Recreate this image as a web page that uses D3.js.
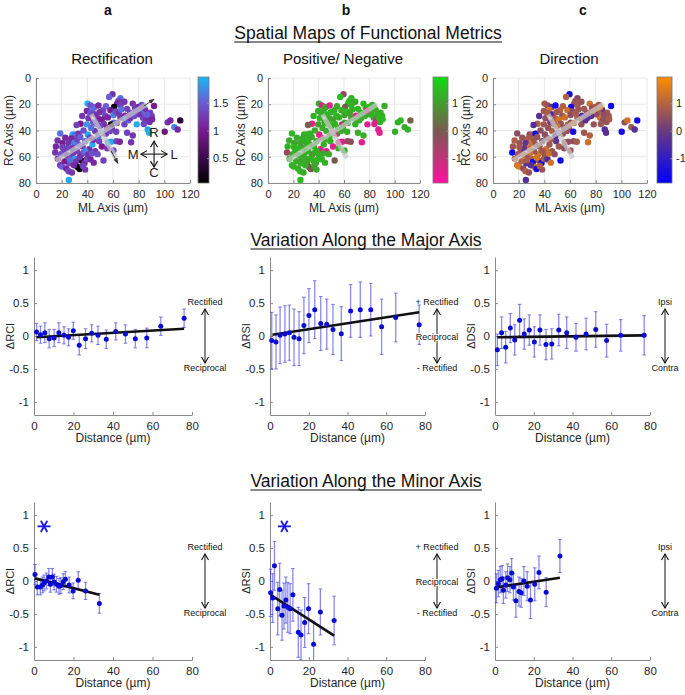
<!DOCTYPE html>
<meta charset="utf-8">
<head>
<title>Spatial Maps of Functional Metrics</title>
<script src="https://d3js.org/d3.v7.min.js"></script>
<style>
  body { margin: 0; background: #fff; }
  text { font-family: "Liberation Sans", Arial, sans-serif; }
</style>
</head>
<body>
<div id="fig"></div>
<script>
// ---------------- data ----------------
const colLetters = ["a", "b", "c"];
const mapTitles = ["Rectification", "Positive/ Negative", "Direction"];
const mapXTicks = [0, 20, 40, 60, 80, 100, 120];
const mapYTicks = [0, 20, 40, 60, 80];

// cell positions (ML, RC in µm) and metric values for each cell
const cellML = [59.6,57.0,65.8,64.2,67.4,63.2,60.9,65.8,68.9,40.2,42.5,45.6,48.7,44.0,46.1,52.3,58.0,60.4,53.9,48.2,
  51.3,52.8,44.6,40.9,39.6,34.7,31.6,28.5,30.8,33.2,27.5,30.1,18.9,16.8,15.5,15.0,20.7,21.5,25.4,27.5,
  24.4,27.2,18.9,20.2,23.6,25.9,25.6,30.1,31.1,32.4,33.9,35.0,35.8,37.8,39.6,36.3,38.3,40.4,42.0,41.5,
  44.0,46.1,49.2,50.8,54.4,51.3,56.0,58.5,62.7,65.3,74.1,52.6,60.4,59.1,60.6,58.5,63.0,65.8,69.4,69.4,
  68.9,72.0,75.4,77.2,79.8,82.4,85.0,81.9,83.4,85.5,87.6,90.2,92.0,78.5,87.1,88.1,71.0,75.4,100.3,102.6,
  104.7,107.8,110.4,112.4,39.6,42.2,28.5,33.2,22.3,31.9,80.3,88.9,73.3,55.2,50.0,46.1,48.7,38.3,25.4,37.0,
  17.0,19.5,22.8,24.0,26.5,29.0,29.5,32.0,34.5,34.0,36.5,37.0,38.5,40.5,42.5,43.5,44.5,43.0,47.5,49.5,
  54.5,56.0,57.5,62.0,64.5,66.5,71.0,73.5,76.5,78.0,83.5,86.5,88.5,84.0,90.5,62.5,55.5,48.0,45.0,28.0,
  20.5,36.0];
const cellRC = [12.3,14.4,15.4,17.4,18.7,19.5,22.0,20.5,18.0,19.5,21.0,22.0,21.0,24.1,27.7,24.6,24.6,28.2,28.7,30.7,
  31.7,34.8,33.8,30.7,35.3,34.8,35.8,43.0,43.0,42.5,46.1,49.1,42.2,47.6,52.2,56.8,49.6,56.3,49.4,53.2,
  58.8,59.6,66.5,67.5,69.0,65.0,77.7,61.4,63.9,67.8,69.3,58.3,63.0,64.7,61.6,52.2,48.1,43.0,45.5,54.2,
  50.6,55.8,48.1,41.7,42.5,52.2,48.9,48.6,48.1,48.6,48.9,62.9,55.2,38.4,34.1,35.3,34.3,30.2,28.7,31.5,
  35.3,32.3,19.5,22.6,22.0,20.5,24.1,26.4,30.2,32.3,30.7,28.9,21.3,35.3,39.2,41.7,41.7,43.8,41.0,33.8,
  32.3,37.4,39.2,32.3,25.1,26.6,53.2,50.6,63.4,55.8,27.7,26.4,26.4,37.9,36.6,40.4,44.3,69.8,71.1,57.0,
  61.5,58.0,45.5,53.5,62.5,57.0,66.5,46.5,45.0,60.5,67.0,40.0,55.5,58.5,62.0,57.5,47.0,38.0,35.0,26.0,
  21.5,30.0,40.5,25.5,27.0,24.0,23.5,30.5,29.0,25.0,22.5,28.0,33.5,35.0,31.5,41.0,53.5,58.0,64.5,72.0,
  52.5,29.0];
const cellRCI = [1.2,1.5,1.6,1.3,1.2,1.1,0.1,1.3,1.2,1.9,1.4,1.5,1.1,1.6,1.2,1.3,1.0,1.7,1.3,1.1,
  1.0,1.2,1.4,1.2,1.8,1.0,1.3,1.9,1.6,1.2,1.1,1.7,1.6,1.2,1.1,1.2,1.0,1.3,1.2,1.8,
  1.1,1.4,1.2,1.5,1.1,1.3,1.9,1.8,1.2,0.1,0.05,1.0,0.1,1.1,1.4,1.2,1.6,1.9,1.3,1.1,
  1.9,1.2,1.3,1.7,1.2,1.0,1.9,1.9,1.3,1.1,1.2,1.3,1.4,1.2,1.6,0.15,1.3,1.2,1.1,1.8,
  1.3,1.5,1.2,1.3,1.1,1.4,1.2,1.6,1.3,1.2,1.1,1.3,1.0,1.9,1.9,1.9,1.3,1.2,0.9,1.2,
  1.1,1.7,1.1,0.4,1.1,1.4,1.2,1.5,1.0,1.3,1.2,1.3,1.4,1.1,1.3,1.2,1.6,1.2,1.3,1.4,
  1.2,1.4,1.1,1.3,1.6,1.2,1.1,1.3,1.5,1.2,1.3,1.4,1.7,1.2,1.1,1.4,1.2,1.6,1.3,1.2,
  1.5,1.1,1.3,1.4,1.2,1.6,1.3,1.2,1.4,1.3,1.1,1.5,1.2,1.3,1.1,1.3,1.2,1.4,1.1,1.2,
  1.3,1.2];
const cellRSI = [-0.4,1.5,1.3,1.4,1.2,1.5,0.0,1.3,1.1,1.2,-1.4,1.3,-1.5,1.2,1.4,1.2,1.3,1.1,1.5,1.2,
  1.0,1.3,1.2,1.4,1.1,-1.5,0.1,1.3,1.2,1.4,1.2,1.3,1.4,1.2,1.3,-0.4,1.1,1.4,1.2,-1.5,
  1.3,1.2,1.5,1.3,1.2,1.4,1.5,1.2,1.1,0.1,0.0,-1.4,1.3,1.2,1.4,1.3,1.2,-1.3,-1.5,-1.4,
  1.2,-1.3,1.3,-1.5,-0.5,-1.5,-1.4,-1.5,-0.6,-0.3,-1.5,0.0,1.3,1.4,1.2,-0.4,1.3,1.1,-1.5,1.4,
  1.2,1.3,1.4,1.2,1.5,1.3,1.2,1.3,1.1,-1.4,1.3,1.4,1.2,-1.5,-1.4,-1.5,1.2,1.3,1.2,1.3,
  1.4,1.2,1.3,0.1,1.3,1.2,1.3,1.2,1.2,1.4,1.3,1.2,1.4,1.2,1.3,1.2,1.3,1.2,1.4,1.2,
  1.3,1.2,1.3,1.4,1.2,1.3,1.2,1.4,1.2,1.3,1.1,1.2,1.3,1.2,1.4,1.2,1.3,1.2,1.3,1.4,
  1.2,1.3,1.2,1.3,1.1,1.3,1.4,1.2,1.3,-1.4,1.2,1.3,1.2,-1.3,1.4,1.2,1.3,1.2,1.3,1.2,
  1.4,1.3];
const cellDSI = [-1.6,0.9,0.3,0.5,0.8,0.7,-1.6,0.7,0.6,0.8,0.6,-0.3,-1.5,1.4,-0.6,0.9,1.3,0.5,0.6,0.8,
  1.4,0.6,0.2,0.5,0.7,0.9,-0.4,0.5,0.7,-1.6,0.8,1.3,0.4,0.9,0.7,-1.6,0.6,0.6,-0.2,0.7,
  1.4,0.5,1.3,1.5,0.5,-0.3,-0.4,0.9,-1.6,1.4,-1.5,0.6,0.6,-1.6,0.8,0.7,0.3,0.5,0.5,1.3,
  0.7,0.6,-0.2,-1.5,0.6,0.7,0.9,0.5,0.5,0.8,1.3,-1.6,0.7,0.6,0.4,0.9,1.4,0.8,-0.5,0.7,
  0.6,-0.2,1.3,0.5,0.7,0.7,-0.3,0.9,1.4,0.5,0.6,0.8,-1.6,0.6,-0.4,-0.3,0.7,0.9,-1.5,0.5,
  1.3,0.7,-0.3,-1.6,0.7,0.8,1.3,0.6,0.9,0.6,0.5,0.7,0.7,0.5,1.3,0.9,-0.4,0.6,0.9,1.4,
  0.9,0.7,0.6,-0.2,0.8,1.3,-0.3,0.7,0.6,1.4,0.9,0.5,0.7,0.6,-0.5,1.3,0.8,0.6,0.7,0.7,
  0.9,1.3,0.6,0.5,0.8,0.7,0.7,-0.4,-0.3,0.9,1.3,0.5,0.6,0.7,0.8,-1.5,0.5,0.5,1.3,0.6,
  0.7,-0.3];

// principal axes drawn over the maps (ML, RC)
const majorAxisLine = [[15.5, 62.9], [86.3, 20.0]];
const minorAxisLine = [[43.0, 27.7], [62.2, 60.9]];
const majorArrow = [[84.0, 21.4], [92.0, 16.2]];
const minorArrow = [[58.5, 55.5], [63.8, 65.0]];

// colour bar ranges / ticks
const cbDomains = [[0.05, 1.97], [-1.9, 1.95], [-1.9, 1.95]];
const cbTicks = [[0.5, 1, 1.5], [-1, 0, 1], [-1, 0, 1]];

// variation along the major axis
const trendXTicks = [0, 20, 40, 60, 80];
const trendYTicks = [-1, -0.5, 0, 0.5, 1];

const majDistRCI = [1.3,3.3,5.5,7.7,10.2,12.6,15.2,17.5,19.9,22.9,26.1,29.2,32.4,36.6,41.4,46.3,51.3,57.1,64.2,76.0];
const majRCI    = [0.06,0.02,0.05,-0.04,-0.03,0.05,0.01,-0.02,0.08,-0.14,-0.04,0.04,0.01,-0.05,0.07,0.03,-0.04,-0.03,0.15,0.27];
const majRCIerr = [0.13,0.13,0.15,0.14,0.13,0.15,0.13,0.13,0.13,0.15,0.15,0.13,0.14,0.14,0.13,0.14,0.14,0.15,0.14,0.14];
const majRCIfit = [[1.3, -0.02], [76.0, 0.11]];

const majDistRSI = [0.9,3.1,5.2,7.7,10.0,12.4,15.0,17.5,20.1,23.1,26.2,29.3,32.5,36.8,41.6,46.6,52.0,57.6,64.9,77.0];
const majRSI    = [-0.07,-0.09,0.01,0.03,0.05,-0.02,-0.04,0.16,0.31,0.40,0.19,0.18,0.10,0.035,0.38,0.40,0.40,0.14,0.28,0.17];
const majRSIerr = [0.43,0.41,0.43,0.43,0.42,0.43,0.41,0.43,0.41,0.44,0.41,0.38,0.38,0.41,0.40,0.42,0.40,0.42,0.37,0.30];
const majRSIfit = [[1.3, 0.02], [77.0, 0.36]];

const majDistDSI = [1.2,3.4,5.5,7.9,10.2,12.7,15.1,17.7,20.3,23.2,26.3,29.3,32.9,37.0,41.8,47.0,52.0,57.6,64.9,77.0];
const majDSI    = [-0.21,0.05,-0.17,0.12,-0.06,0.24,0.03,0.09,-0.09,0.09,-0.13,-0.12,0.09,0.05,-0.02,0.03,0.10,-0.07,0.01,0.01];
const majDSIerr = [0.24,0.24,0.24,0.22,0.23,0.24,0.23,0.23,0.23,0.23,0.23,0.23,0.24,0.24,0.21,0.24,0.27,0.25,0.24,0.30];
const majDSIfit = [[1.2, -0.02], [77.0, 0.01]];

// variation along the minor axis
const minDistRCI = [0.5,1.7,3.2,4.3,5.1,6.3,7.5,8.3,9.3,10.2,11.4,12.7,13.6,14.8,15.9,17.8,19.8,22.4,26.1,33.1];
const minRCI    = [0.10,-0.09,-0.09,-0.06,-0.03,0.0,0.06,-0.05,0.06,-0.015,-0.05,-0.08,-0.07,-0.01,0.025,-0.06,-0.15,0.01,-0.15,-0.34];
const minRCIerr = [0.15,0.12,0.12,0.12,0.12,0.12,0.13,0.12,0.13,0.12,0.12,0.12,0.12,0.12,0.12,0.12,0.12,0.13,0.13,0.15];
const minRCIfit = [[0.5, 0.04], [33.1, -0.21]];

const minDistRSI = [0.3,1.4,2.3,4.0,5.0,6.2,7.2,8.2,9.2,10.4,11.8,14.6,16.0,17.9,19.9,22.5,26.0,33.1];
const minRSI    = [-0.18,-0.26,0.23,-0.42,-0.13,-0.52,-0.38,-0.29,-0.40,-0.42,-0.21,-0.78,-0.82,-0.63,-0.42,-0.96,-0.47,-0.60];
const minRSIerr = [0.36,0.37,0.37,0.40,0.40,0.38,0.35,0.35,0.38,0.38,0.40,0.38,0.38,0.38,0.38,0.35,0.35,0.37];
const minRSIfit = [[0.3, -0.21], [33.1, -0.83]];

const minDistDSI = [0.7,1.7,2.7,3.7,4.3,5.6,6.5,7.7,8.6,9.5,10.8,12.4,13.5,14.9,16.6,18.3,20.5,22.7,26.4,33.5];
const minDSI    = [-0.11,-0.04,0.02,0.035,-0.14,-0.06,0.05,0.02,0.12,-0.09,-0.30,-0.16,-0.18,0.0,-0.08,-0.29,-0.05,0.13,-0.17,0.38];
const minDSIerr = [0.22,0.20,0.20,0.20,0.20,0.20,0.21,0.20,0.22,0.20,0.25,0.22,0.22,0.22,0.22,0.28,0.25,0.25,0.22,0.25];
const minDSIfit = [[0.3, -0.10], [33.5, 0.05]];

const minAsterisk = [[5.1, 0.83], [7.4, 0.83], null];

const annotTop = ["Rectified", "+ Rectified", "Ipsi"];
const annotMid = [null, "Reciprocal", null];
const annotBot = ["Reciprocal", "- Rectified", "Contra"];
const trendYLabels = ["\u0394RCI", "\u0394RSI", "\u0394DSI"];

// ---------------- layout ----------------
const W = 685, H = 695;
const mapX = [[36, 190], [268, 420], [493, 647]];
const mapTop = 78, mapBot = 183;
const cbBox = [[198, 11], [433, 15], [657, 15]];
const trendX = [[34, 192], [270, 425], [495, 650]];
const majTop = 257, majBot = 415;
const minTop = 502, minBot = 660;
const annotX = [205, 437, 665];
const AXIS = "#8a8a8a", TXT = "#262626";

const cmapRCI = d3.scaleLinear().domain([0.05, 0.5, 1.0, 1.5, 1.97])
  .range(["#000000", "#3a0a4a", "#7a1a92", "#6a5cd6", "#16b8f4"]);
const cmapRSI = d3.scaleLinear().domain([-1.9, 0, 1.95]).range(["#ff10a0", "#7a5a50", "#10dc10"]);
const cmapDSI = d3.scaleLinear().domain([-1.9, 0, 1.95]).range(["#0000ff", "#6a3a80", "#ff8c00"]);
const cmaps = [cmapRCI, cmapRSI, cmapDSI];
const cellVals = [cellRCI, cellRSI, cellDSI];

const svg = d3.select("#fig").append("svg").attr("width", W).attr("height", H);
const defs = svg.append("defs");

defs.append("marker").attr("id", "chev").attr("viewBox", "0 0 8 8")
  .attr("refX", 7).attr("refY", 4).attr("markerWidth", 8).attr("markerHeight", 8)
  .attr("markerUnits", "userSpaceOnUse").attr("orient", "auto-start-reverse")
  .append("path").attr("d", "M1,0.5 L7,4 L1,7.5").attr("fill", "none").attr("stroke", "#111").attr("stroke-width", 1.1);
defs.append("marker").attr("id", "tri").attr("viewBox", "0 0 8 8")
  .attr("refX", 7).attr("refY", 4).attr("markerWidth", 6).attr("markerHeight", 6)
  .attr("markerUnits", "userSpaceOnUse").attr("orient", "auto")
  .append("path").attr("d", "M0,1 L8,4 L0,7 Z").attr("fill", "#333");

function styleAxis(g, fs) {
  g.select(".domain").attr("stroke", AXIS);
  g.selectAll(".tick line").attr("stroke", AXIS);
  g.selectAll(".tick text").attr("fill", TXT).attr("font-size", fs)
    .attr("font-family", "Liberation Sans, Arial, sans-serif");
}

function underlinedTitle(txt, x, y) {
  const t = svg.append("text").attr("x", x).attr("y", y).attr("text-anchor", "middle")
    .attr("font-size", 17.5).attr("fill", "#111").text(txt);
  const bb = t.node().getBBox();
  svg.append("line").attr("x1", bb.x).attr("x2", bb.x + bb.width)
    .attr("y1", y + 3).attr("y2", y + 3).attr("stroke", "#111").attr("stroke-width", 1.2);
}

// ---------------- titles ----------------
colLetters.forEach((l, i) => {
  svg.append("text").attr("x", [108, 346, 583][i]).attr("y", 15).attr("text-anchor", "middle")
    .attr("font-size", 14).attr("font-weight", "bold").attr("fill", "#111").text(l);
});
underlinedTitle("Spatial Maps of Functional Metrics", 368, 39);
underlinedTitle("Variation Along the Major Axis", 366, 246);
underlinedTitle("Variation Along the Minor Axis", 366, 487);

// ---------------- maps ----------------
function drawMap(col) {
  const [x0, x1] = mapX[col];
  const x = d3.scaleLinear().domain([0, 120]).range([x0, x1]);
  const y = d3.scaleLinear().domain([0, 80]).range([mapTop, mapBot]);
  const g = svg.append("g");
  const cmap = cmaps[col], vals = cellVals[col];

  g.append("text").attr("x", (x0 + x1) / 2 - 1).attr("y", 64).attr("text-anchor", "middle")
    .attr("font-size", 15).attr("fill", "#111").text(mapTitles[col]);

  g.append("g").selectAll("line").data(mapXTicks).join("line")
    .attr("x1", d => x(d)).attr("x2", d => x(d)).attr("y1", mapTop).attr("y2", mapBot)
    .attr("stroke", "#e8e8e8");
  g.append("g").selectAll("line").data(mapYTicks).join("line")
    .attr("x1", x0).attr("x2", x1).attr("y1", d => y(d)).attr("y2", d => y(d))
    .attr("stroke", "#e8e8e8");

  const ax = g.append("g").attr("transform", `translate(0,${mapBot})`)
    .call(d3.axisBottom(x).tickValues(mapXTicks).tickSizeInner(-3).tickSizeOuter(0).tickPadding(7).tickFormat(d => d));
  styleAxis(ax, 11);
  const ay = g.append("g").attr("transform", `translate(${x0},0)`)
    .call(d3.axisLeft(y).tickValues(mapYTicks).tickSizeInner(-3).tickSizeOuter(0).tickPadding(5).tickFormat(d => d));
  styleAxis(ay, 11);

  g.append("text").attr("x", (x0 + x1) / 2).attr("y", 212).attr("text-anchor", "middle")
    .attr("font-size", 12).attr("fill", TXT).text("ML Axis (\u00b5m)");
  g.append("text").attr("transform", `translate(${x0 - 23},${(mapTop + mapBot) / 2}) rotate(-90)`)
    .attr("text-anchor", "middle").attr("font-size", 12).attr("fill", TXT).text("RC Axis (\u00b5m)");

  g.append("g").selectAll("circle").data(d3.range(cellML.length)).join("circle")
    .attr("cx", i => x(cellML[i])).attr("cy", i => y(cellRC[i])).attr("r", 3.2)
    .attr("fill", i => cmap(vals[i]));

  [majorAxisLine, minorAxisLine].forEach(seg => {
    g.append("line").attr("x1", x(seg[0][0])).attr("y1", y(seg[0][1]))
      .attr("x2", x(seg[1][0])).attr("y2", y(seg[1][1]))
      .attr("stroke", "#c8c8c8").attr("stroke-width", 5).attr("opacity", 0.72);
  });

  if (col === 0) {
    [majorArrow, minorArrow].forEach(seg => {
      g.append("line").attr("x1", x(seg[0][0])).attr("y1", y(seg[0][1]))
        .attr("x2", x(seg[1][0])).attr("y2", y(seg[1][1]))
        .attr("stroke", "#333").attr("stroke-width", 0.9).attr("marker-end", "url(#tri)");
    });
    // compass
    const cx = x(92), cy = y(58);
    g.append("line").attr("x1", cx).attr("x2", cx).attr("y1", cy - 13).attr("y2", cy + 13)
      .attr("stroke", "#111").attr("stroke-width", 1.1)
      .attr("marker-start", "url(#chev)").attr("marker-end", "url(#chev)");
    g.append("line").attr("x1", cx - 13).attr("x2", cx + 13).attr("y1", cy).attr("y2", cy)
      .attr("stroke", "#111").attr("stroke-width", 1.1)
      .attr("marker-start", "url(#chev)").attr("marker-end", "url(#chev)");
    [["R", 0, -17], ["C", 0, 23], ["M", -21, 5], ["L", 20, 5]].forEach(([t, dx, dy]) => {
      g.append("text").attr("x", cx + dx).attr("y", cy + dy).attr("text-anchor", "middle")
        .attr("font-size", 13).attr("fill", "#222").text(t);
    });
  }

  // colour bar
  const [bx, bw] = cbBox[col];
  const dom = cbDomains[col];
  const cy = d3.scaleLinear().domain(dom).range([mapBot, mapTop - 1]);
  const grad = defs.append("linearGradient").attr("id", "cb" + col)
    .attr("x1", 0).attr("y1", 1).attr("x2", 0).attr("y2", 0);
  cmap.domain().forEach(s => {
    grad.append("stop").attr("offset", (s - dom[0]) / (dom[1] - dom[0])).attr("stop-color", cmap(s));
  });
  g.append("rect").attr("x", bx).attr("y", mapTop - 1).attr("width", bw).attr("height", mapBot - mapTop + 1)
    .attr("fill", `url(#cb${col})`).attr("stroke", "#777").attr("stroke-width", 0.8);
  const cba = g.append("g").attr("transform", `translate(${bx + bw},0)`)
    .call(d3.axisRight(cy).tickValues(cbTicks[col]).tickSizeInner(-2).tickSizeOuter(0).tickPadding(4).tickFormat(d => d));
  cba.select(".domain").remove();
  styleAxis(cba, 11);
}
[0, 1, 2].forEach(drawMap);

// ---------------- trend plots ----------------
function drawTrend(col, top, bot, dist, vals, errs, fit, star) {
  const [x0, x1] = trendX[col];
  const x = d3.scaleLinear().domain([0, 80]).range([x0, x1]);
  const y = d3.scaleLinear().domain([-1.2, 1.2]).range([bot, top]);
  const g = svg.append("g");
  const clipId = "clip" + col + "_" + top;
  defs.append("clipPath").attr("id", clipId).append("rect")
    .attr("x", x0 - 6).attr("y", top).attr("width", x1 - x0 + 12).attr("height", bot - top);

  const ax = g.append("g").attr("transform", `translate(0,${bot})`)
    .call(d3.axisBottom(x).tickValues(trendXTicks).tickSizeInner(-3).tickSizeOuter(0).tickPadding(7).tickFormat(d => d));
  styleAxis(ax, 11.5);
  const ay = g.append("g").attr("transform", `translate(${x0},0)`)
    .call(d3.axisLeft(y).tickValues(trendYTicks).tickSizeInner(-3).tickSizeOuter(0).tickPadding(5).tickFormat(d => String(d)));
  styleAxis(ay, 11.5);

  g.append("text").attr("x", (x0 + x1) / 2).attr("y", bot + 27).attr("text-anchor", "middle")
    .attr("font-size", 12).attr("fill", TXT).text("Distance (\u00b5m)");
  g.append("text").attr("transform", `translate(${x0 - 20},${y(0)}) rotate(-90)`)
    .attr("text-anchor", "middle").attr("font-size", 11).attr("fill", TXT).text(trendYLabels[col]);

  const pg = g.append("g").attr("clip-path", `url(#${clipId})`);
  const idx = d3.range(dist.length);
  const eb = "rgba(60,60,225,0.6)";
  pg.selectAll(".eb").data(idx).join("line")
    .attr("x1", i => x(dist[i])).attr("x2", i => x(dist[i]))
    .attr("y1", i => y(vals[i] - errs[i])).attr("y2", i => y(vals[i] + errs[i]))
    .attr("stroke", eb).attr("stroke-width", 1.3);
  [-1, 1].forEach(s => {
    pg.selectAll(".cap" + s).data(idx).join("line")
      .attr("x1", i => x(dist[i]) - 1.8).attr("x2", i => x(dist[i]) + 1.8)
      .attr("y1", i => y(vals[i] + s * errs[i])).attr("y2", i => y(vals[i] + s * errs[i]))
      .attr("stroke", eb).attr("stroke-width", 1.1);
  });
  pg.append("line").attr("x1", x(fit[0][0])).attr("y1", y(fit[0][1]))
    .attr("x2", x(fit[1][0])).attr("y2", y(fit[1][1]))
    .attr("stroke", "#111").attr("stroke-width", 2.6);
  pg.selectAll(".pt").data(idx).join("circle")
    .attr("cx", i => x(dist[i])).attr("cy", i => y(vals[i])).attr("r", 2.5).attr("fill", "#0a0ad2");

  if (star) {
    const sx = x(star[0]), sy = y(star[1]);
    [0, 60, 120].forEach(a => {
      const r = 6.5, t = a * Math.PI / 180;
      g.append("line").attr("x1", sx - r * Math.cos(t)).attr("y1", sy - r * Math.sin(t))
        .attr("x2", sx + r * Math.cos(t)).attr("y2", sy + r * Math.sin(t))
        .attr("stroke", "#1a1ae0").attr("stroke-width", 1.8);
    });
  }

  // annotation arrow and labels
  const offset = top - majTop;
  const axX = annotX[col];
  g.append("line").attr("x1", axX).attr("x2", axX).attr("y1", 309 + offset).attr("y2", 363 + offset)
    .attr("stroke", "#111").attr("stroke-width", 1)
    .attr("marker-start", "url(#chev)").attr("marker-end", "url(#chev)");
  const lab = (t, yy) => {
    if (!t) return;
    g.append("text").attr("x", axX).attr("y", yy + offset).attr("text-anchor", "middle")
      .attr("font-size", 9).attr("fill", "#111").attr("paint-order", "stroke")
      .attr("stroke", t === "Reciprocal" && col === 1 ? "#fff" : "none").attr("stroke-width", 2).text(t);
  };
  lab(annotTop[col], 305);
  lab(annotMid[col], 340);
  lab(annotBot[col], 371);
}

drawTrend(0, majTop, majBot, majDistRCI, majRCI, majRCIerr, majRCIfit, null);
drawTrend(1, majTop, majBot, majDistRSI, majRSI, majRSIerr, majRSIfit, null);
drawTrend(2, majTop, majBot, majDistDSI, majDSI, majDSIerr, majDSIfit, null);
drawTrend(0, minTop, minBot, minDistRCI, minRCI, minRCIerr, minRCIfit, minAsterisk[0]);
drawTrend(1, minTop, minBot, minDistRSI, minRSI, minRSIerr, minRSIfit, minAsterisk[1]);
drawTrend(2, minTop, minBot, minDistDSI, minDSI, minDSIerr, minDSIfit, minAsterisk[2]);
</script>
</body>
</html>
